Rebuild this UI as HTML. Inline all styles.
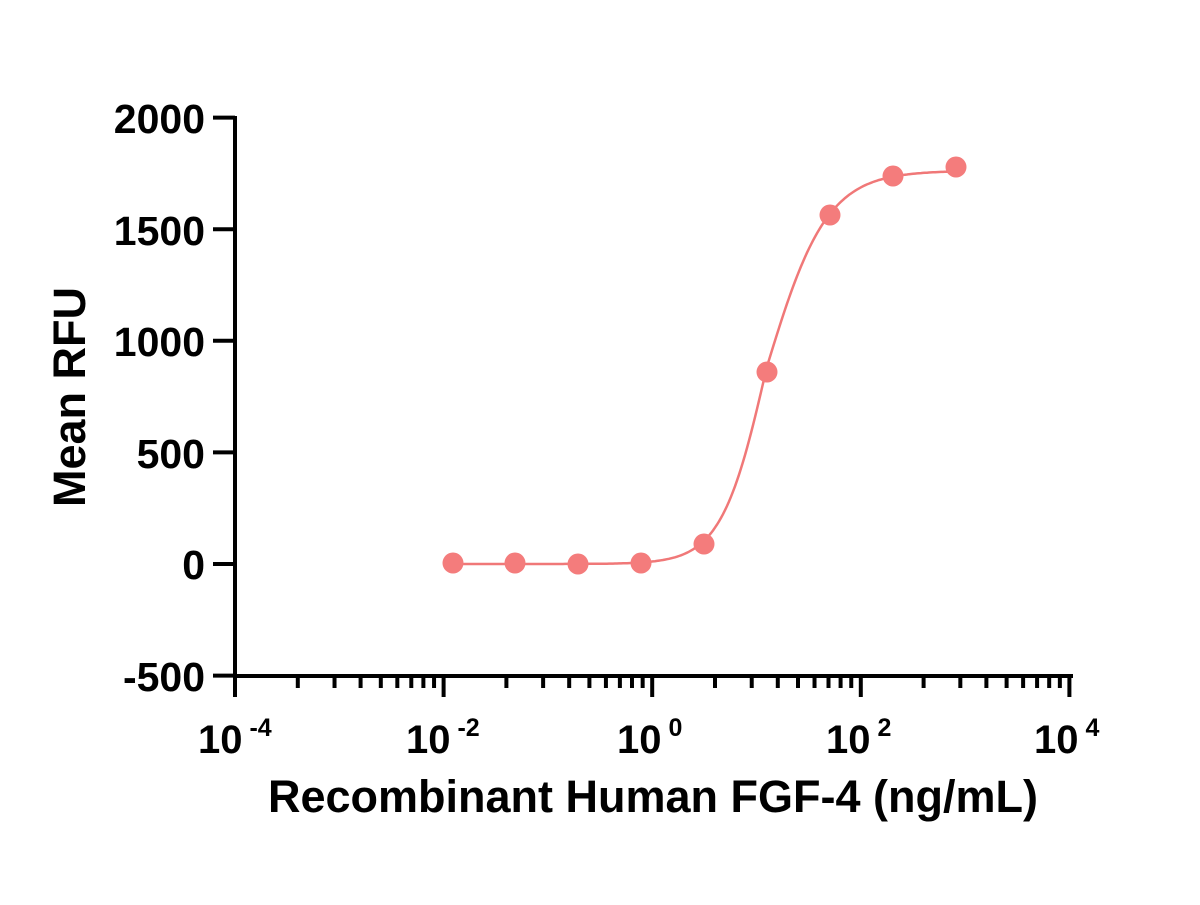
<!DOCTYPE html>
<html><head><style>body{margin:0;background:#fff}</style></head><body>
<svg id="s" width="1200" height="900" xmlns="http://www.w3.org/2000/svg" font-family="Liberation Sans, Arial, sans-serif" font-weight="bold">
<g stroke="#000" stroke-width="4" fill="none" id="ax">
<line x1="235" y1="116" x2="235" y2="678"/>
<line x1="233" y1="676" x2="1073" y2="676"/>
</g>
<g font-size="41" text-anchor="end" fill="#000">
<text x="205" y="133">2000</text>
<text x="205" y="245">1500</text>
<text x="205" y="356">1000</text>
<text x="205" y="468">500</text>
<text x="205" y="579">0</text>
<text x="205" y="691">-500</text>
</g>
<g font-size="40" fill="#000">
<text x="198" y="753">10<tspan dy="-17" font-size="25"> -4</tspan></text>
<text x="406" y="753">10<tspan dy="-17" font-size="25"> -2</tspan></text>
<text x="617" y="753">10<tspan dy="-17" font-size="25"> 0</tspan></text>
<text x="826" y="753">10<tspan dy="-17" font-size="25"> 2</tspan></text>
<text x="1034" y="753">10<tspan dy="-17" font-size="25"> 4</tspan></text>
</g>
<text x="653" y="812" font-size="45" text-anchor="middle">Recombinant Human FGF-4 (ng/mL)</text>
<text transform="translate(85,397) rotate(-90)" font-size="45" text-anchor="middle">Mean RFU</text>
<path id="c" fill="none" stroke="#f07878" stroke-width="2.5"/>
<g fill="#f47c7c" id="pts"></g>
</svg>
<script>
var X0=235,D=104.3,Y0=564,K=0.2232;
var ax=document.getElementById('ax'),s='';
for(var d=-4;d<=4;d+=2){var x=X0+(d+4)*D;
 s+='<line x1="'+x+'" y1="676" x2="'+x+'" y2="697"/>';
 if(d<4) for(var m=2;m<=9;m++){var xx=x+2*Math.log10(m)*D;s+='<line x1="'+xx+'" y1="676" x2="'+xx+'" y2="688"/>';}
 }
for(var v=-500;v<=2000;v+=500){var y=Y0-v*K;s+='<line x1="213" y1="'+y+'" x2="235" y2="'+y+'"/>';}
ax.innerHTML+=s;
var p='';for(var x=453;x<=956;x+=2){var l=(x-652)/D;var h=l<1.1?2.0:1.5;var v=1762/(1+Math.pow(10,(1.1-l)*h));p+=(p?'L':'M')+x+','+(Y0-v*K).toFixed(1);}
document.getElementById('c').setAttribute('d',p);
var P=[[453,563],[515,563],[578,564],[641,563],[704,544],[767,372],[830,215],[893,176],[956,167]];
var g='';P.forEach(function(q){g+='<circle cx="'+q[0]+'" cy="'+q[1]+'" r="10.5"/>';});
document.getElementById('pts').innerHTML=g;
</script>
</body></html>
